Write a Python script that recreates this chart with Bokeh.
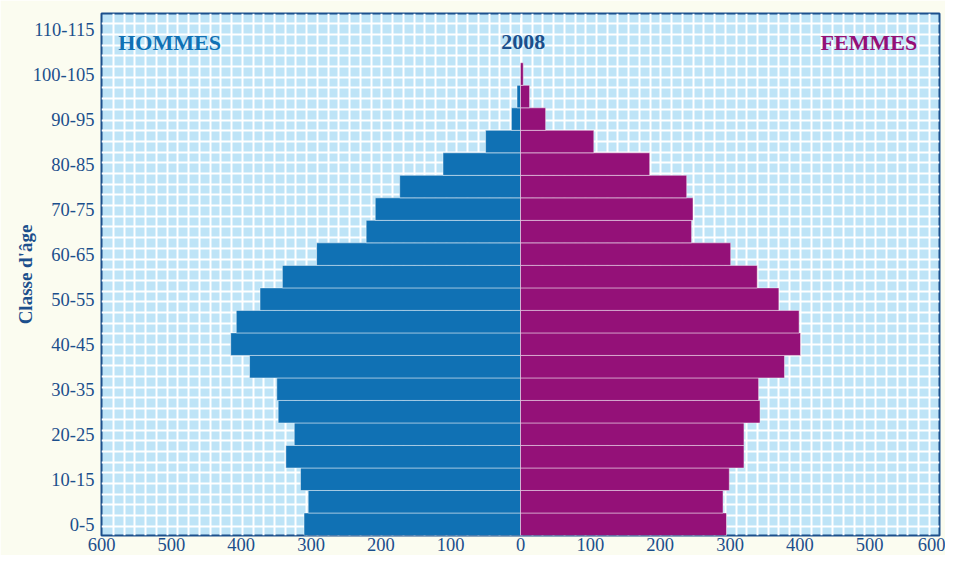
import numpy as np
from bokeh.plotting import figure
from bokeh.models import ColumnDataSource, FixedTicker, Range1d
from bokeh.core.properties import value
from bokeh.embed import file_html
from bokeh.resources import INLINE

# ---- data -------------------------------------------------------------
ages = ["0-5", "5-10", "10-15", "15-20", "20-25", "25-30", "30-35", "35-40",
        "40-45", "45-50", "50-55", "55-60", "60-65", "65-70", "70-75", "75-80",
        "80-85", "85-90", "90-95", "95-100", "100-105", "105-110", "110-115"]
hommes = [310, 304, 315, 336, 324, 347, 349, 388, 415, 407, 373, 341,
          292, 221, 208, 173, 111, 50, 13, 5, 0.5, 0, 0]
femmes = [295, 290, 299, 320, 320, 343, 341, 378, 401, 399, 370, 339,
          301, 245, 247, 238, 185, 105, 36, 13, 4, 0, 0]
x_ticks = list(range(-600, 601, 100))
year = "2008"

# ---- styles ----------------------------------------------------------
BLUE = "#1071b4"
MAGENTA = "#941178"
NAVY = "#1b4f8c"
PLOT_BG = "#bee4f7"
PAGE_BG = "#fbfcf0"
SERIF = "Liberation Serif"

y = np.arange(len(ages)) + 0.5
src = ColumnDataSource(dict(
    y=y, age=ages,
    h=[-v for v in hommes], f=femmes, zero=[0] * len(ages)))

p = figure(width=945, height=555, output_backend="svg", toolbar_location=None,
           x_range=Range1d(-600, 600), y_range=Range1d(0, 23.19),
           min_border_left=101, min_border_right=6, min_border_top=13,
           min_border_bottom=20)
p.background_fill_color = PLOT_BG
p.border_fill_color = PAGE_BG
p.outline_line_color = NAVY
p.outline_line_width = 2

# decorative fine grid
p.xgrid.ticker = FixedTicker(ticks=list(np.arange(-582.8, 600, 15.37)))
p.ygrid.ticker = FixedTicker(ticks=list(np.arange(0.41, 23.19, 0.4749)))
for g in (p.xgrid, p.ygrid):
    g.grid_line_color = "white"
    g.grid_line_width = 2
    g.grid_line_alpha = 1.0

p.hbar(y="y", left="h", right="zero", height=1.0, source=src,
       fill_color=BLUE, line_color="white", line_alpha=0.45, line_width=1)
p.hbar(y="y", left="zero", right="f", height=1.0, source=src,
       fill_color=MAGENTA, line_color="white", line_alpha=0.45, line_width=1)

# x axis
xa = p.xaxis[0]
xa.ticker = FixedTicker(ticks=x_ticks)
xa.major_label_overrides = {t: str(abs(t)) for t in x_ticks}
xa.major_label_text_font = SERIF
xa.major_label_text_font_size = "18.5px"
xa.major_label_text_color = NAVY
xa.major_label_standoff = 2
xa.axis_line_color = None
xa.major_tick_line_color = None
xa.minor_tick_line_color = None
xa.major_tick_out = 0
xa.major_tick_in = 0

# y axis
ya = p.yaxis[0]
ytick_pos = [i + 0.5 for i in range(0, len(ages), 2)]
ya.ticker = FixedTicker(ticks=ytick_pos)
ya.major_label_overrides = {i + 0.5: ages[i] for i in range(0, len(ages), 2)}
ya.major_label_text_font = SERIF
ya.major_label_text_font_size = "18.5px"
ya.major_label_text_color = NAVY
ya.major_label_standoff = 7
ya.axis_line_color = None
ya.major_tick_line_color = None
ya.minor_tick_line_color = None
ya.major_tick_out = 0
ya.major_tick_in = 0
ya.axis_label = "Classe d'âge"
ya.axis_label_text_font = SERIF
ya.axis_label_text_font_style = "bold"
ya.axis_label_text_font_size = "19px"
ya.axis_label_text_color = NAVY
ya.axis_label_standoff = -6

# header texts inside the frame
ty = 21.91
p.text(x=[-576], y=[ty], text=["HOMMES"], text_font=value(SERIF),
       text_font_style="bold", text_font_size="22px", text_color=BLUE,
       text_align="left", text_baseline="middle")
p.text(x=[4], y=[ty], text=[year], text_font=value(SERIF),
       text_font_style="bold", text_font_size="22px", text_color=NAVY,
       text_align="center", text_baseline="middle")
p.text(x=[568], y=[ty], text=["FEMMES"], text_font=value(SERIF),
       text_font_style="bold", text_font_size="22px", text_color=MAGENTA,
       text_align="right", text_baseline="middle")

open("out.html", "w").write(file_html(p, INLINE))
